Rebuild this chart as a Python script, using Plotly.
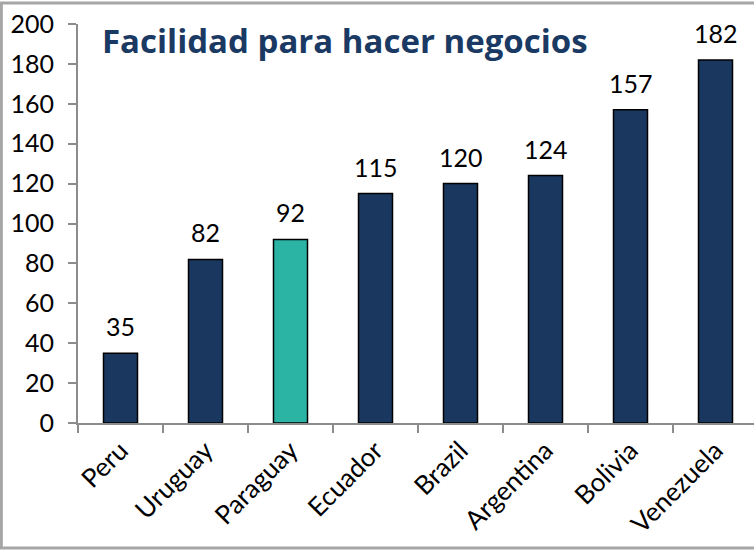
import plotly.graph_objects as go

countries = ["Peru", "Uruguay", "Paraguay", "Ecuador", "Brazil", "Argentina", "Bolivia", "Venezuela"]
ranking = [35, 82, 92, 115, 120, 124, 157, 182]
highlight = "Paraguay"

navy = "#19375F"
teal = "#2BB3A4"
colors = [teal if c == highlight else navy for c in countries]

W, H = 754, 550
ml, mt, mb = 78, 24, 127
cat_px = 85.0
plot_w = W - ml
plot_h = H - mt - mb
x_hi = -0.5 + plot_w / cat_px

fig = go.Figure(
    go.Bar(
        x=countries,
        y=ranking,
        width=0.4,
        marker=dict(color=colors, line=dict(color="#000000", width=1.5)),
        hoverinfo="x+y",
    )
)

# value labels above each bar
value_labels = [
    dict(x=c, y=v, xref="x", yref="y", text=str(v), showarrow=False,
         yanchor="bottom", yshift=10,
         font=dict(family="Lato, sans-serif", size=25, color="#000000"))
    for c, v in zip(countries, ranking)
]

fig.update_layout(
    width=W,
    height=H,
    margin=dict(l=ml, r=0, t=mt, b=mb),
    paper_bgcolor="#FFFFFF",
    plot_bgcolor="#FFFFFF",
    showlegend=False,
    font=dict(family="Lato, sans-serif", color="#000000"),
    annotations=value_labels + [
        dict(
            text="<b>Facilidad para hacer negocios</b>",
            xref="paper", yref="paper",
            x=(100 - ml) / plot_w, y=1 - (40 - mt) / plot_h,
            xanchor="left", yanchor="middle",
            showarrow=False,
            font=dict(family="Open Sans, sans-serif", size=33, color="#1B3A63"),
        )
    ],
    shapes=[
        dict(type="rect", xref="paper", yref="paper",
             x0=-ml / plot_w + 0.002, x1=1.5, y0=-(mb - 2) / plot_h, y1=1 + (mt - 3) / plot_h,
             line=dict(color="#A6A6A6", width=3), fillcolor="rgba(0,0,0,0)", layer="below"),
    ],
)

fig.update_xaxes(
    type="category",
    range=[-0.5, x_hi],
    showline=True, linecolor="#8C8C8C", linewidth=2,
    ticks="outside", tickson="boundaries", ticklen=8, tickcolor="#8C8C8C", tickwidth=2,
    tickangle=-45,
    tickfont=dict(family="Lato, sans-serif", size=26, color="#000000"),
    showgrid=False,
)
fig.update_yaxes(
    range=[0, 200],
    tickvals=list(range(0, 201, 20)),
    showline=True, linecolor="#8C8C8C", linewidth=2,
    ticks="outside", ticklen=8, tickcolor="#8C8C8C", tickwidth=2,
    ticklabelstandoff=9,
    tickfont=dict(family="Lato, sans-serif", size=25, color="#000000"),
    showgrid=False, zeroline=False,
)

fig.write_html("out.html")
